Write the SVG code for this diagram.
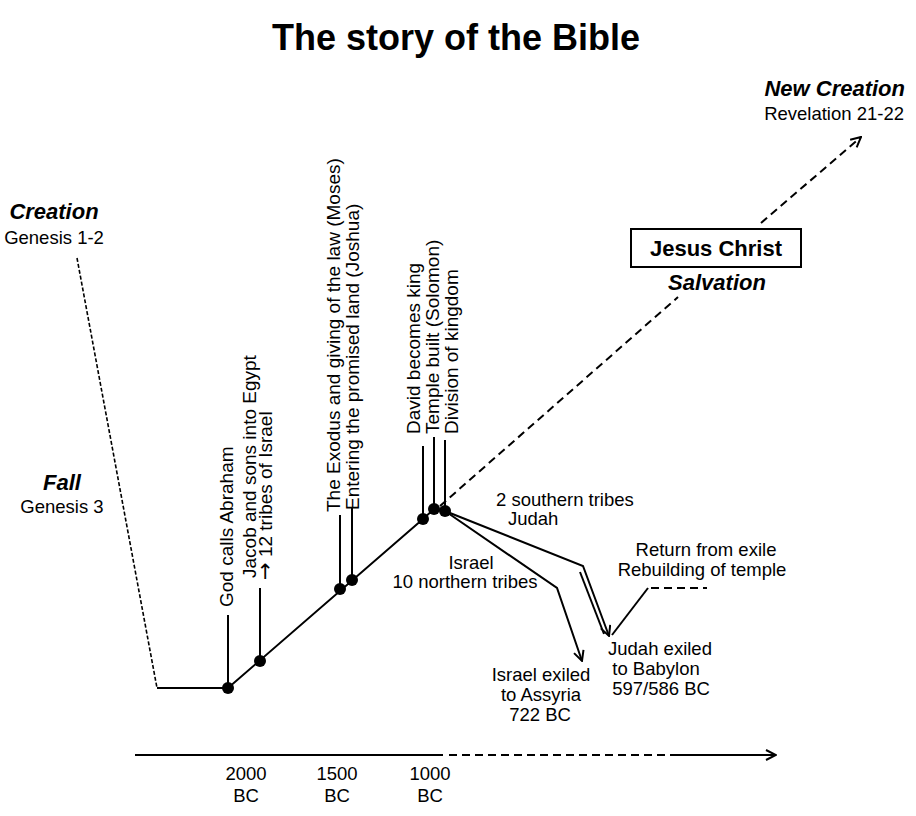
<svg xmlns="http://www.w3.org/2000/svg" width="916" height="816" viewBox="0 0 916 816">
<style>
text{font-family:"Liberation Sans",Arial,sans-serif;fill:#000;font-size:18.5px}
.r{font-size:19px}
.t{font-size:36px;font-weight:bold}
.bi{font-size:22px;font-weight:bold;font-style:italic}
.b{font-size:22px;font-weight:bold}
.m{text-anchor:middle}
.e{text-anchor:end}
.ar{font-family:"DejaVu Sans",sans-serif;font-size:21px}
.ln{stroke:#000;stroke-width:2;fill:none}
.dl{stroke:#000;stroke-width:2;fill:none;stroke-dasharray:8 5}
.fd{stroke:#000;stroke-width:1.6;fill:none;stroke-dasharray:4 2}
.dot{fill:#000}
</style>
<defs>
<marker id="arr" viewBox="0 0 12 12" refX="11" refY="6" markerWidth="12" markerHeight="12" markerUnits="userSpaceOnUse" orient="auto">
<path d="M1,1 L11,6 L1,11" fill="none" stroke="#000" stroke-width="2"/>
</marker>
</defs>
<text class="t m" x="456" y="50">The story of the Bible</text>

<g id="connectors">
<path class="fd" d="M77,258 L157,688"/>
<path class="ln" d="M157,688 L228,688 L423,519 L434,509 L445,511"/>
<path class="dl" d="M440,506 L678,297"/>
<path class="dl" d="M761,223 L861,137" marker-end="url(#arr)"/>
<line class="ln" x1="228" y1="615" x2="228" y2="688"/>
<line class="ln" x1="260" y1="588" x2="260" y2="661"/>
<line class="ln" x1="340" y1="515" x2="340" y2="589"/>
<line class="ln" x1="352" y1="507" x2="352" y2="580"/>
<line class="ln" x1="423" y1="446" x2="423" y2="519"/>
<line class="ln" x1="434" y1="437" x2="434" y2="509"/>
<line class="ln" x1="445" y1="440" x2="445" y2="511"/>
<path class="ln" d="M445,511 L583,566 L609,636" marker-end="url(#arr)"/>
<path class="ln" d="M580,572 L604,634"/>
<path class="ln" d="M445,511 L557,588 L582,661" marker-end="url(#arr)"/>
<path class="ln" d="M612,635 L648,588"/>
<path class="dl" d="M651,588 L707,588"/>
<path class="ln" d="M135,755 L443,755"/>
<path class="dl" d="M449,755 L678,755"/>
<path class="ln" d="M678,755 L776,755" marker-end="url(#arr)"/>
</g>

<g id="creation"><text class="bi m" x="54" y="219">Creation</text><text class="m" x="54" y="244">Genesis 1-2</text></g>
<g id="fall"><text class="bi m" x="62" y="490">Fall</text><text class="m" x="62" y="513">Genesis 3</text></g>

<g id="abraham"><circle class="dot" cx="228" cy="688" r="6"/><text class="r" transform="translate(233,607) rotate(-90)">God calls Abraham</text></g>
<g id="jacob"><circle class="dot" cx="260" cy="661" r="6"/><text class="r" transform="translate(256,578) rotate(-90)">Jacob and sons into Egypt</text><text class="r" transform="translate(272,580) rotate(-90)"><tspan class="ar">→</tspan> 12 tribes of Israel</text></g>
<g id="exodus"><circle class="dot" cx="340" cy="589" r="6"/><text class="r" transform="translate(340,512) rotate(-90)">The Exodus and giving of the law (Moses)</text></g>
<g id="entering"><circle class="dot" cx="352" cy="580" r="6"/><text class="r" transform="translate(359,510) rotate(-90)">Entering the promised land (Joshua)</text></g>
<g id="david"><circle class="dot" cx="423" cy="519" r="6"/><text class="r" transform="translate(420,434) rotate(-90)">David becomes king</text></g>
<g id="temple"><circle class="dot" cx="434" cy="509" r="6"/><text class="r" transform="translate(439,434) rotate(-90)">Temple built (Solomon)</text></g>
<g id="division"><circle class="dot" cx="445" cy="511" r="6"/><text class="r" transform="translate(458,434) rotate(-90)">Division of kingdom</text></g>

<g id="judah"><text x="496" y="506">2 southern tribes</text><text x="508" y="525">Judah</text></g>
<g id="israel"><text class="m" x="471" y="569">Israel</text><text class="m" x="465" y="588">10 northern tribes</text></g>
<g id="return"><text class="m" x="706" y="556">Return from exile</text><text class="m" x="702" y="576">Rebuilding of temple</text></g>
<g id="babylon"><text class="m" x="660" y="655">Judah exiled</text><text class="m" x="656" y="675">to Babylon</text><text class="m" x="661" y="695">597/586 BC</text></g>
<g id="assyria"><text class="m" x="541" y="681">Israel exiled</text><text class="m" x="541" y="701">to Assyria</text><text class="m" x="540" y="721">722 BC</text></g>

<g id="jesus"><rect x="631" y="229" width="170" height="38" fill="#fff" stroke="#000" stroke-width="2"/><text class="b m" x="716" y="256">Jesus Christ</text><text class="bi m" x="717" y="290">Salvation</text></g>
<g id="newcreation"><text class="bi e" x="905" y="96">New Creation</text><text class="e" x="904" y="120">Revelation 21-22</text></g>

<g id="axis"><text class="m" x="246" y="780">2000</text><text class="m" x="246" y="802">BC</text><text class="m" x="337" y="780">1500</text><text class="m" x="337" y="802">BC</text><text class="m" x="430" y="780">1000</text><text class="m" x="430" y="802">BC</text></g>
</svg>
